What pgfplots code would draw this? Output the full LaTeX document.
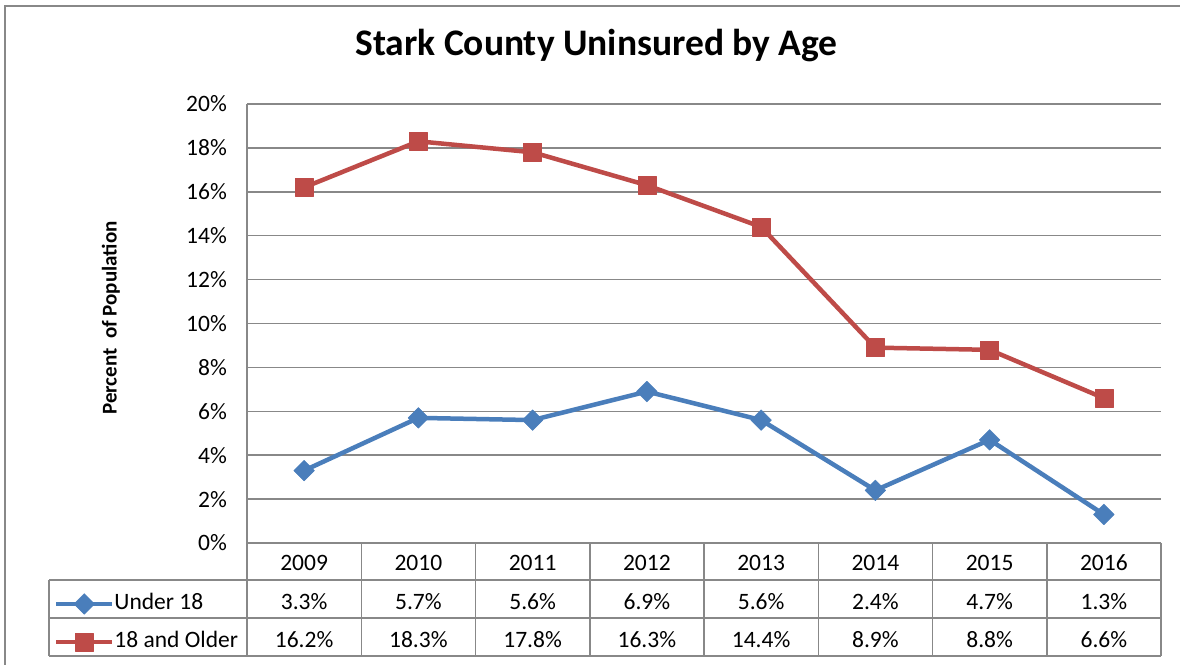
\documentclass[border=0pt]{standalone}
\usepackage{fontspec}
\setmainfont{Carlito}
\usepackage{pgfplots}
\pgfplotsset{compat=1.18}
\definecolor{ublue}{HTML}{4A7EBB}
\definecolor{ored}{HTML}{BE4B48}
\definecolor{gridg}{HTML}{888888}
\newcommand{\sfont}{\fontsize{23.5}{26}\selectfont}
\begin{document}
\begin{tikzpicture}[x=1pt,y=1pt]
\useasboundingbox (0,0) rectangle (1180,664);
\draw[gridg, line width=2pt] (5,-2) -- (5,658) -- (1182,658);
\node[font=\fontsize{37.5}{40}\selectfont\bfseries, anchor=base, inner sep=0pt] at (596.5,608) {Stark County Uninsured by Age};
\node[font=\fontsize{21}{24}\selectfont\bfseries, rotate=90, inner sep=0pt] at (111,346) {Percent\ \ of Population};
\begin{axis}[
  at={(247pt,121pt)}, anchor=south west,
  width=914pt, height=439pt, scale only axis,
  xmin=-0.5, xmax=7.5, ymin=0, ymax=20,
  ytick={0,2,...,20}, xtick=\empty,
  major tick length=0pt,
  ymajorgrids, grid style={gridg, line width=1.5pt},
  axis lines=left, axis line style={gridg, line width=1.5pt, -},
  /pgf/number format/assume math mode=true,
  yticklabel={\pgfmathprintnumber{\tick}\%},
  yticklabel style={font=\sfont, anchor=east, inner sep=0pt, xshift=-20pt},
  clip=false,
  legend style={at={(axis description cs:-0.2112,-0.1150)}, anchor=north west,
    draw=none, fill=none, inner sep=0pt, outer sep=0pt, row sep=17pt,
    font=\sfont, nodes={inner sep=0pt, text height=16pt, text depth=5pt},
    /tikz/every even column/.append style={column sep=5pt}},
  legend cell align=left,
  legend image code/.code={\draw[mark repeat=2,mark phase=2] plot coordinates {(0pt,0pt)(28pt,0pt)(56pt,0pt)};},
]
\addplot[ublue, line width=4.5pt, line join=round, mark=square*, mark size=7.3pt,
  mark options={solid, rotate=45, line width=0.5pt}]
  coordinates {(0,3.3)(1,5.7)(2,5.6)(3,6.9)(4,5.6)(5,2.4)(6,4.7)(7,1.3)};
\addlegendentry{Under 18}
\addplot[ored, line width=4.5pt, line join=round, mark=square*, mark size=9pt,
  mark options={solid, line width=0.5pt}]
  coordinates {(0,16.2)(1,18.3)(2,17.8)(3,16.3)(4,14.4)(5,8.9)(6,8.8)(7,6.6)};
\addlegendentry{18 and Older}
\end{axis}
% data table grid
\foreach \k in {0,...,8} {
  \draw[gridg, line width=1.5pt] ({247+\k*114.25},121) -- ({247+\k*114.25},8);
}
\draw[gridg, line width=1.5pt] (49,84) -- (1161,84);
\draw[gridg, line width=1.5pt] (49,46) -- (1161,46);
\draw[gridg, line width=1.5pt] (49,8) -- (1161,8);
\draw[gridg, line width=1.5pt] (49,84) -- (49,8);
\foreach \y [count=\i from 0] in {2009,2010,2011,2012,2013,2014,2015,2016} {
  \node[font=\sfont, anchor=base, inner sep=0pt] at ({247+(\i+0.5)*114.25},93) {\y};
}
\foreach \v [count=\i from 0] in {3.3,5.7,5.6,6.9,5.6,2.4,4.7,1.3} {
  \node[font=\sfont, anchor=base, inner sep=0pt] at ({247+(\i+0.5)*114.25},55) {\v\%};
}
\foreach \v [count=\i from 0] in {16.2,18.3,17.8,16.3,14.4,8.9,8.8,6.6} {
  \node[font=\sfont, anchor=base, inner sep=0pt] at ({247+(\i+0.5)*114.25},17) {\v\%};
}
\end{tikzpicture}
\end{document}
